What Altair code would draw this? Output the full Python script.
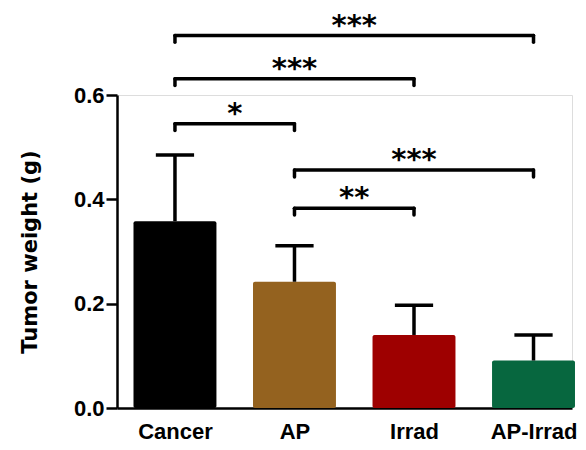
import json
import altair as alt
import pandas as pd

# ---- data ----
groups = ["Cancer", "AP", "Irrad", "AP-Irrad"]
means = [0.358, 0.242, 0.140, 0.091]
sems = [0.127, 0.069, 0.057, 0.049]
colors = ["#000000", "#94621f", "#9e0000", "#07673f"]

cmp_from = ["Cancer", "Cancer", "Cancer", "AP", "AP"]
cmp_to = ["AP-Irrad", "Irrad", "AP", "AP-Irrad", "Irrad"]
cmp_y = [0.714, 0.631, 0.545, 0.456, 0.383]
cmp_label = ["***", "***", "*", "***", "**"]

yticks = [0.0, 0.2, 0.4, 0.6]

# ---- tables ----
bars_df = pd.DataFrame({
    "group": groups,
    "idx": list(range(len(groups))),
    "mean": means,
    "sem": sems,
})
bars_df["upper"] = bars_df["mean"] + bars_df["sem"]

cmp_df = pd.DataFrame({
    "i0": [groups.index(g) for g in cmp_from],
    "i1": [groups.index(g) for g in cmp_to],
    "y": cmp_y,
    "label": cmp_label,
})
cmp_df["mid"] = (cmp_df["i0"] + cmp_df["i1"]) / 2

ends_df = pd.concat([
    pd.DataFrame({"xi": cmp_df["i0"], "y": cmp_df["y"]}),
    pd.DataFrame({"xi": cmp_df["i1"], "y": cmp_df["y"]}),
], ignore_index=True)

HALF_BAR = 0.347
HALF_CAP = 0.16
DROP = 0.013

W, H = 455, 313
xscale = alt.Scale(domain=[-0.485, 3.322], nice=False, zero=False)
yscale = alt.Scale(domain=[0, 0.6], nice=False)

label_expr = json.dumps(groups) + "[datum.value]"

xaxis = alt.Axis(
    values=list(range(len(groups))), labelExpr=label_expr, ticks=False,
    grid=False, title=None, domainColor="black", domainWidth=2.5,
    labelFont="Liberation Sans", labelFontSize=22, labelFontWeight="bold",
    labelColor="black", labelPadding=13,
)
yaxis = alt.Axis(
    values=yticks, format=".1f", grid=False, title="Tumor weight (g)",
    domainColor="black", domainWidth=2.5, tickColor="black", tickWidth=2.5,
    tickSize=11, labelFont="Liberation Sans", labelFontSize=22,
    labelFontWeight="bold", labelColor="black", labelPadding=2,
    titleFont="DejaVu Sans", titleFontSize=21, titleFontWeight="bold",
    titleColor="black", titleX=-87, titleY=H / 2, titleAlign="center",
    titleBaseline="middle", titleAngle=-90,
)

base = alt.Chart(bars_df)

bars = base.mark_bar(cornerRadius=2).transform_calculate(
    x0=f"datum.idx - {HALF_BAR}", x1=f"datum.idx + {HALF_BAR}"
).encode(
    x=alt.X("x0:Q", scale=xscale, axis=xaxis),
    x2="x1:Q",
    y=alt.Y("mean:Q", scale=yscale, axis=yaxis),
    y2=alt.datum(0),
    color=alt.Color("group:N", scale=alt.Scale(domain=groups, range=colors), legend=None),
)

err_line = base.mark_rule(color="black", strokeWidth=3.5).encode(
    x="idx:Q", y="mean:Q", y2="upper:Q"
)

err_cap = base.mark_rule(color="black", strokeWidth=3.5).transform_calculate(
    c0=f"datum.idx - {HALF_CAP}", c1=f"datum.idx + {HALF_CAP}"
).encode(x="c0:Q", x2="c1:Q", y="upper:Q")

br_h = alt.Chart(cmp_df).mark_rule(color="black", strokeWidth=3.5, strokeCap="round").encode(
    x="i0:Q", x2="i1:Q", y="y:Q"
)

br_v = alt.Chart(ends_df).mark_rule(color="black", strokeWidth=3.5, strokeCap="round").transform_calculate(
    y2=f"datum.y - {DROP}"
).encode(x="xi:Q", y="y:Q", y2="y2:Q")

stars = alt.Chart(cmp_df).mark_text(
    font="DejaVu Sans", fontSize=29, fontWeight="bold", color="black",
    baseline="alphabetic", align="center", dy=-1,
).encode(x="mid:Q", y="y:Q", text="label:N")

chart = alt.layer(bars, err_line, err_cap, br_h, br_v, stars).properties(
    width=W, height=H,
    autosize=alt.AutoSizeParams(type="none"),
    padding={"left": 109, "top": 87, "right": 6, "bottom": 34},
).configure_view(stroke=None).configure(background="white")

chart.save("out.html", embed_options={"renderer": "svg", "actions": False})
